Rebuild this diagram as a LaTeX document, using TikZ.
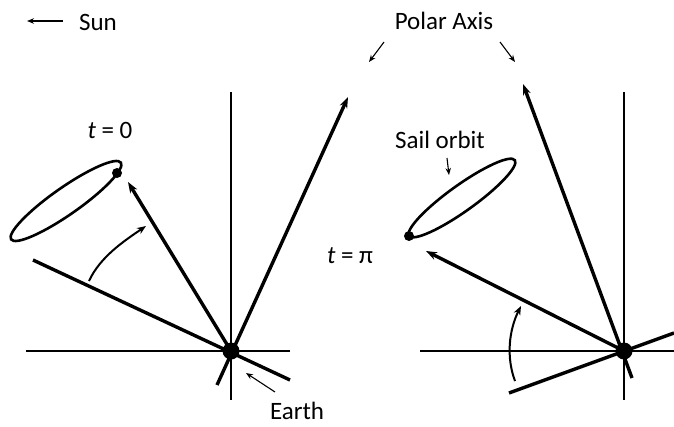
\documentclass[tikz,border=0pt]{standalone}
\usepackage{fontspec}
\setmainfont{Carlito}
\usetikzlibrary{arrows.meta}
\begin{document}
\begin{tikzpicture}[x=1pt,y=-1pt,
  axisline/.style={line width=2.6pt},
  heavy/.style={line width=3.4pt},
  vecarrow/.style={line width=3.4pt,-{Stealth[length=11pt,width=8pt]}},
  thinarrow/.style={line width=1.1pt,-{Stealth[length=7pt,width=5.5pt]}},
  swing/.style={line width=2pt,-{Stealth[length=9pt,width=7pt]}},
  orbit/.style={line width=2.6pt},
  earthdot/.style={circle,fill=black,inner sep=0pt,minimum size=17pt},
  satdot/.style={circle,fill=black,inner sep=0pt,minimum size=10pt},
  lbl/.style={inner sep=0pt,font=\fontsize{25}{30}\selectfont}]
\useasboundingbox (0,0) rectangle (674,426);

% ---------- labels ----------
\node[lbl] (sun) at (98,22) {Sun};
\coordinate (sunA) at (63,21);
\coordinate (sunB) at (27,21);
\draw[thinarrow] (sunA) -- (sunB);

\node[lbl] (polar) at (444,21) {Polar Axis};
\coordinate (pa1s) at (384,42); \coordinate (pa1e) at (369,62);
\coordinate (pa2s) at (500,42); \coordinate (pa2e) at (515,62);
\draw[thinarrow] (pa1s) -- (pa1e);
\draw[thinarrow] (pa2s) -- (pa2e);

\node[lbl] (t0) at (110,130) {\textit{t} = 0};
\node[lbl] (tpi) at (350,256) {\textit{t} = π};
\node[lbl] (sail) at (440,140) {Sail orbit};
\coordinate (sos) at (447,158); \coordinate (soe) at (449,175);
\draw[thinarrow] (sos) -- (soe);

\node[lbl] (earthlbl) at (297,411) {Earth};
\coordinate (eas) at (275,392); \coordinate (eae) at (246,373);
\draw[thinarrow] (eas) -- (eae);

% ---------- left panel ----------
\coordinate (eLc) at (231,351);
\coordinate (hL1) at (26,351);  \coordinate (hL2) at (290,351);
\coordinate (vL1) at (231,92);  \coordinate (vL2) at (231,400);
\coordinate (lL1) at (33,260);  \coordinate (lL2) at (290,380);
\coordinate (pL1) at (217,385); \coordinate (pLt) at (348,97);
\coordinate (sLt) at (128,182);
\draw[axisline] (hL1) -- (hL2);
\draw[axisline] (vL1) -- (vL2);
\draw[heavy] (lL1) -- (lL2);
\draw[vecarrow] (pL1) -- (pLt);
\draw[vecarrow] (eLc) -- (sLt);
\draw[orbit,shift={(66,201)},rotate=35] (0,0) ellipse [x radius=67, y radius=13.5];
\node[satdot] (satL) at (117,173) {};
\coordinate (cLs) at (89,281); \coordinate (cLe) at (146,226);
\draw[swing] (cLs) .. controls (100,257) and (124,241) .. (cLe);
\node[earthdot] (eL) at (eLc) {};

% ---------- right panel ----------
\coordinate (eRc) at (624,351);
\coordinate (hR1) at (420,351); \coordinate (hR2) at (674,351);
\coordinate (vR1) at (624,92);  \coordinate (vR2) at (624,400);
\coordinate (lR1) at (509,393); \coordinate (lR2) at (674,333);
\coordinate (pR1) at (632,378); \coordinate (pRt) at (523,84);
\coordinate (sRt) at (426,251);
\draw[axisline] (hR1) -- (hR2);
\draw[axisline] (vR1) -- (vR2);
\draw[heavy] (lR1) -- (lR2);
\draw[vecarrow] (pR1) -- (pRt);
\draw[vecarrow] (eRc) -- (sRt);
\draw[orbit,shift={(462,198)},rotate=35.6] (0,0) ellipse [x radius=65, y radius=13];
\node[satdot] (satR) at (409,236) {};
\coordinate (cRs) at (515,381); \coordinate (cRe) at (521,306);
\draw[swing] (cRs) .. controls (506,357) and (509,330) .. (cRe);
\node[earthdot] (eR) at (eRc) {};
\end{tikzpicture}
\end{document}
